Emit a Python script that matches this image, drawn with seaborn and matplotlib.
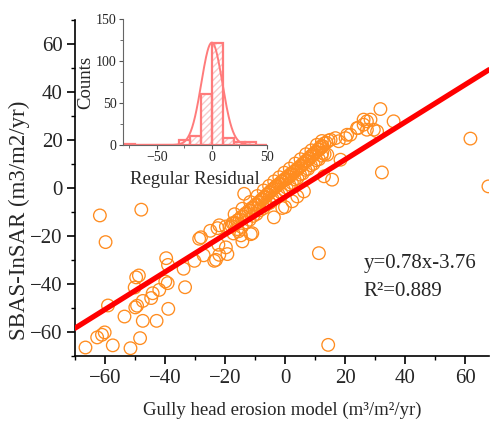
import numpy as np
import pandas as pd
import matplotlib
matplotlib.use("Agg")
import matplotlib.pyplot as plt
from matplotlib.ticker import MultipleLocator
import seaborn as sns

# ---------------- data ----------------
# scattered / outlying points
x_out = [-66.5, -62.6, -61.0, -60.1, -57.4, -51.5, -48.3, -59.0, -53.5, -49.9, -49.3, -47.4,
         -42.8, -38.9, -50.1, -49.6, -48.7, -47.4, -44.6, -44.1, -41.9, -39.9, -39.1, -39.6,
         -39.0, -33.8, -33.3, -61.7, -59.8, -47.9, -30.2, -28.6, -28.0, -27.1, -24.9, -23.6,
         -23.0, -22.5, -22.2, -19.7, -19.2, -19.7, -17.5, -14.2, -11.4, -15.5, -14.7, -21.9,
         -21.9, -13.6, -3.7, -0.9, 0.0, -10.9, 2.4, 4.1, 6.3, 13.0, 15.7, 11.3, 14.4,
         15.2, 16.8, 17.9, 20.2, 20.7, 21.8, 24.0, 24.4, 26.2, 26.2, 27.3, 27.3, 28.5, 29.6,
         30.7, 31.8, 36.2, 18.5, 12.4, 14.1, 11.9, 12.4, 32.3, 61.8, 67.8]
y_out = [-66.4, -62.2, -61.1, -60.1, -65.5, -66.7, -62.5, -48.9, -53.5, -49.7, -49.0, -55.3,
         -55.3, -50.3, -41.4, -37.2, -36.4, -47.0, -45.8, -43.8, -42.4, -38.9, -39.6, -29.2,
         -32.0, -33.6, -41.3, -11.4, -22.5, -9.0, -30.3, -21.1, -20.5, -28.0, -17.8, -30.3,
         -29.9, -16.7, -23.6, -24.7, -27.5, -16.0, -14.6, -22.2, -19.2, -18.0, -19.7, -27.8,
         -15.5, -2.4, -12.2, -8.3, -7.9, -18.8, -5.5, -3.5, -1.4, 4.9, 3.5, -27.1, -65.3,
         20.1, 20.8, 19.5, 20.8, 22.2, 22.2, 25.0, 25.0, 26.4, 28.5, 27.8, 24.3, 28.5, 24.3,
         23.6, 32.9, 27.8, 11.8, 14.6, 13.9, 16.7, 17.4, 6.5, 20.6, 0.7]
# dense band of points along the 1:1 direction
x_band = [-18.5, -17.8, -17.0, -16.4, -15.8, -15.1, -14.6, -13.9, -13.2, -12.8, -12.1, -11.5,
          -11.0, -10.4, -9.9, -9.3, -8.8, -8.4, -7.9, -7.5, -7.0, -6.6, -6.1, -5.7, -5.2, -4.8,
          -4.3, -3.9, -3.4, -3.0, -2.6, -2.1, -1.7, -1.2, -0.8, -0.3, 0.1, 0.6, 1.0, 1.5, 1.9,
          2.4, 2.8, 3.3, 3.7, 4.2, 4.6, 5.1, 5.5, 6.0, 6.4, 6.9, 7.3, 7.8, 8.2, 8.7, 9.1, 9.6,
          10.0, 10.5, 11.0, 11.4, 11.9, 12.5, 13.1, 13.8, 14.5,
          -17.2, -15.9, -14.4, -13.0, -11.8, -10.6, -9.5, -8.3, -7.2, -6.2, -5.1, -4.1, -3.2,
          -2.2, -1.3, -0.4, 0.5, 1.4, 2.3, 3.2, 4.1, 5.0, 5.9, 6.8, 7.7, 8.6, 9.5, 10.4, 11.3,
          12.2, 13.2,
          -16.8, -14.2, -11.6, -9.2, -7.1, -5.3, -3.6, -1.9, -0.2, 1.6, 3.4, 5.2, 7.0, 8.8,
          10.6, 12.3]
y_band = [-16.3, -15.9, -14.6, -14.5, -13.4, -13.1, -12.0, -11.8, -10.6, -10.7, -9.4, -9.3,
          -8.2, -8.1, -7.0, -6.9, -5.9, -5.9, -4.9, -4.6, -3.9, -3.7, -2.8, -2.6, -1.8, -1.4,
          -0.8, -0.3, 0.2, 0.7, 1.0, 1.6, 1.9, 2.6, 2.9, 3.5, 3.9, 3.8, 4.9, 4.7, 5.9,
          5.8, 6.7, 6.9, 7.6, 8.0, 8.4, 9.1, 9.4, 10.2, 10.4, 11.3, 11.4, 12.4, 12.3, 13.3, 13.8, 14.2,
          14.9, 15.1, 16.1, 16.0, 17.3, 17.5, 18.6, 18.9, 19.8,
          -18.9, -17.1, -16.2, -14.3, -13.2, -11.6, -10.8, -9.2, -8.4, -6.9, -6.2, -4.7, -4.2,
          -2.6, -1.9, -0.6, 0.2, 1.5, 2.2, 3.6, 4.1, 5.6, 6.1, 7.6, 8.0, 9.5, 10.1, 11.6, 12.0,
          13.5, 14.1,
          -10.9, -8.6, -5.8, -3.3, -1.0, 0.9, 2.8, 4.5, 6.4, 8.1, 10.2, 12.0, 14.1, 15.7,
          18.0, 19.6]

# fitted line (from the annotation)
slope, intercept = 0.78, -3.76
line_x = np.array([-70.0, 68.0])

# residual histogram
bin_edges = [-80, -70, -60, -50, -40, -30, -20, -10, 0, 10, 20, 30, 40, 50]
bin_counts = [1, 0, 0, 0, 0, 6, 11, 61, 122, 8, 3, 3, 0]
# normal curve parameters
norm_mu, norm_sigma, norm_peak = 0.0, 9.5, 122.0

# ---------------- styling ----------------
sns.set_theme(style="ticks")
plt.rcParams["font.family"] = ["Liberation Serif", "DejaVu Serif"]
plt.rcParams["mathtext.fontset"] = "stix"

orange = "#FF8C1F"
hist_edge = "#FF7B7B"
hatch_col = "#F7CACA"

fig = plt.figure(figsize=(4.9, 4.25), dpi=100)
ax = fig.add_axes([0.153, 0.162, 0.845, 0.791])

df = pd.DataFrame({"x": x_out + x_band, "y": y_out + y_band})
sns.scatterplot(data=df, x="x", y="y", ax=ax, marker="o", s=82,
                facecolors="none", edgecolors=orange, linewidth=0.95, zorder=2)

ldf = pd.DataFrame({"x": line_x, "y": slope * line_x + intercept})
sns.lineplot(data=ldf, x="x", y="y", ax=ax, color="#FF0000", linewidth=3.8, zorder=3)

ax.set_xlim(-70, 68)
ax.set_ylim(-70, 70)
ax.xaxis.set_major_locator(MultipleLocator(20))
ax.xaxis.set_minor_locator(MultipleLocator(10))
ax.yaxis.set_major_locator(MultipleLocator(20))
ax.yaxis.set_minor_locator(MultipleLocator(10))
ax.tick_params(axis="both", which="major", direction="out", length=6, width=1.2,
               labelsize=15, color="black", pad=3)
ax.tick_params(axis="both", which="minor", direction="out", length=3, width=1.0, color="black")
for s in ["top", "right"]:
    ax.spines[s].set_visible(False)
for s in ["left", "bottom"]:
    ax.spines[s].set_color("black")
    ax.spines[s].set_linewidth(1.2)
ax.set_xlabel("Gully head erosion model (m³/m²/yr)", fontsize=13.5, labelpad=10)
ax.set_ylabel("SBAS-InSAR (m3/m2/yr)", fontsize=16.5)
ax.yaxis.set_label_coords(-0.108, 0.405)

ax.text(26.2, -31.3, "y=0.78x-3.76", fontsize=15, va="center", ha="left")
ax.text(26.2, -43.0, "R²=0.889", fontsize=15, va="center", ha="left")

# ---------------- inset histogram ----------------
axin = fig.add_axes([0.251, 0.659, 0.294, 0.296])
centers = [(a + b) / 2 for a, b in zip(bin_edges[:-1], bin_edges[1:])]
hdf = pd.DataFrame({"r": centers, "w": bin_counts})
sns.histplot(data=hdf, x="r", weights="w", bins=bin_edges, ax=axin,
             facecolor="white", edgecolor=hatch_col, linewidth=0, hatch="/////", alpha=1)
sns.histplot(data=hdf, x="r", weights="w", bins=bin_edges, ax=axin,
             fill=False, color=hist_edge, edgecolor=hist_edge, linewidth=1.6)
cx = np.linspace(-80, 50, 300)
cdf = pd.DataFrame({"x": cx, "y": norm_peak * np.exp(-(cx - norm_mu) ** 2 / (2 * norm_sigma ** 2))})
sns.lineplot(data=cdf, x="x", y="y", ax=axin, color=hist_edge, linewidth=1.4)

axin.set_xlim(-80.5, 50)
axin.set_ylim(0, 150)
axin.set_facecolor("none")
axin.xaxis.set_major_locator(MultipleLocator(50))
axin.xaxis.set_minor_locator(MultipleLocator(25))
axin.yaxis.set_major_locator(MultipleLocator(50))
axin.yaxis.set_minor_locator(MultipleLocator(25))
axin.tick_params(axis="both", which="major", direction="out", length=3, width=0.8,
                 labelsize=10, color="#555555", pad=1.5)
axin.tick_params(axis="both", which="minor", direction="out", length=2, width=0.6, color="#555555")
for s in ["top", "right"]:
    axin.spines[s].set_visible(False)
for s in ["left", "bottom"]:
    axin.spines[s].set_color("#666666")
    axin.spines[s].set_linewidth(0.8)
axin.set_xlabel("Regular Residual", fontsize=13.5, labelpad=5)
axin.set_ylabel("Counts", fontsize=13.5, labelpad=1)

fig.savefig("out.png", dpi=100)
